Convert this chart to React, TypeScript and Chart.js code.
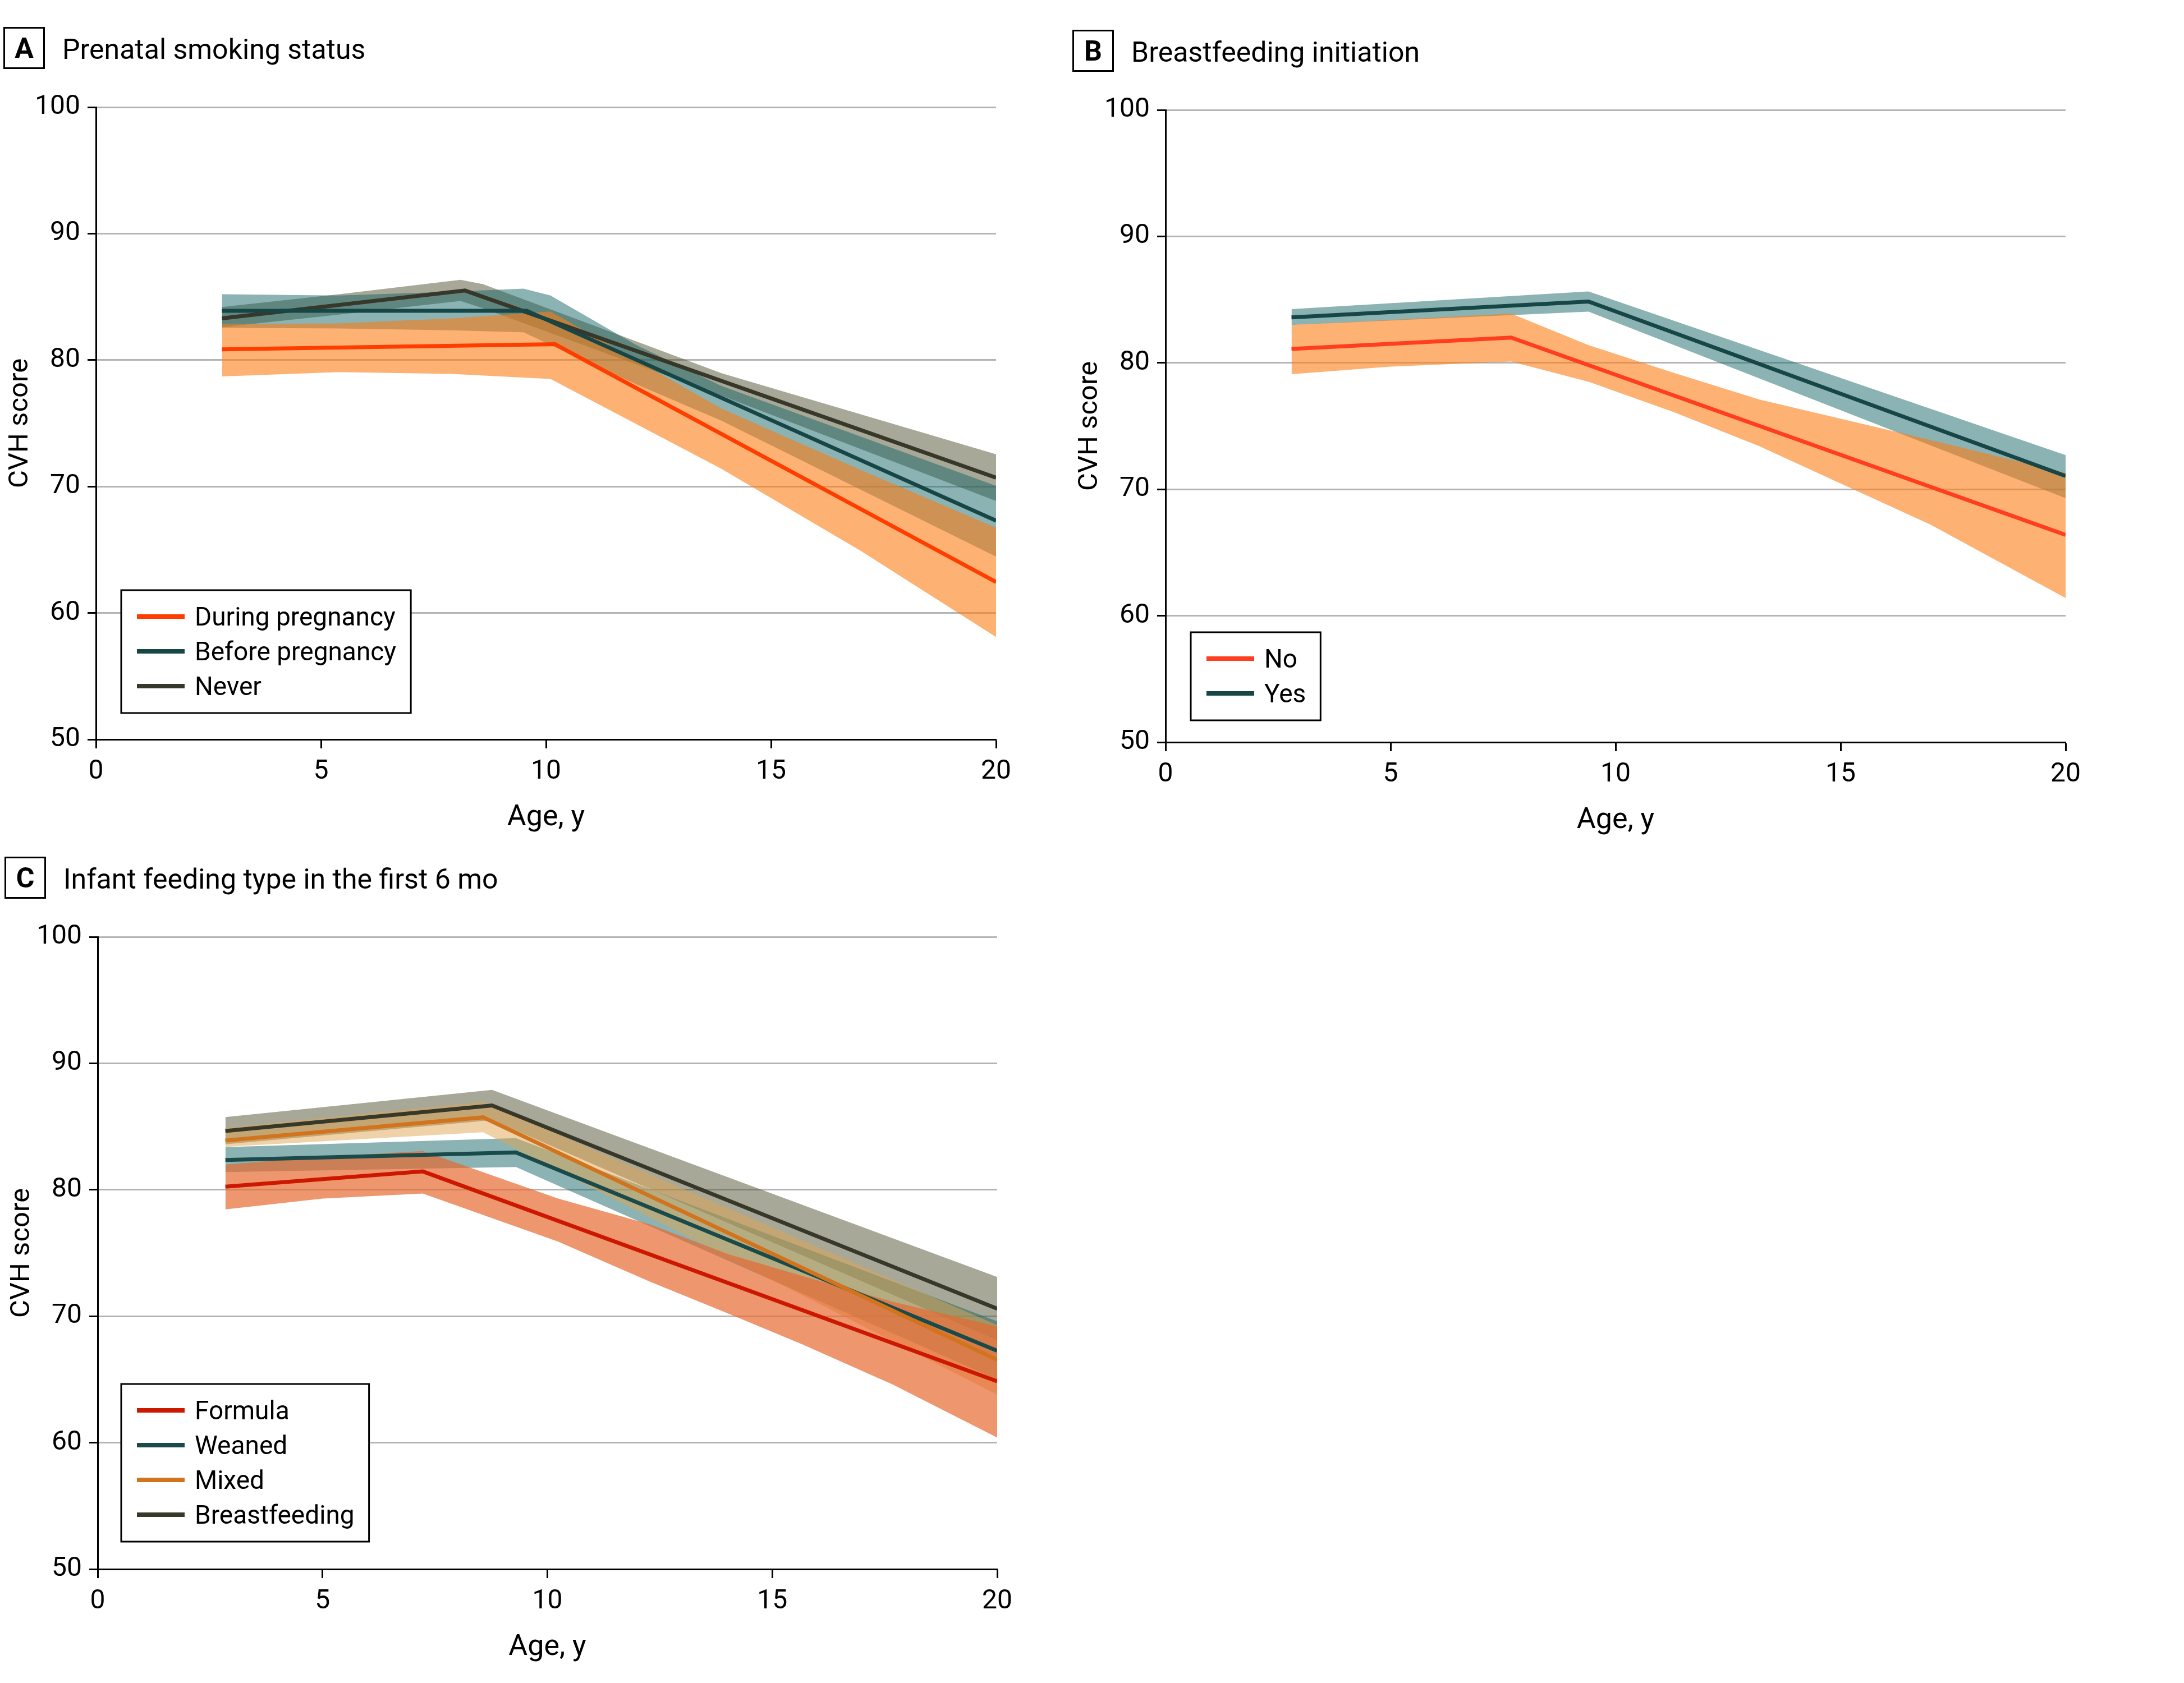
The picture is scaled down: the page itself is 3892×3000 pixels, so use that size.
import React, { useEffect, useRef } from "react";
import { Chart, registerables } from "chart.js";

Chart.register(...registerables);

const FONT = "Roboto, 'Liberation Sans', 'DejaVu Sans', sans-serif";

// ---------------- Panel A: Prenatal smoking status ----------------
const A_duringAges = [2.8, 10.2, 20];
const A_duringCvh = [80.85, 81.25, 62.45];
const A_duringBandAges = [2.8, 5.4, 7.9, 10.1, 13.9, 17, 20];
const A_duringUpper = [82.85, 82.9, 83.3, 83.84, 76.16, 71.3, 66.74];
const A_duringLower = [78.7, 79.05, 78.9, 78.5, 71.4, 64.9, 58.1];

const A_beforeAges = [2.8, 9.57, 20];
const A_beforeCvh = [83.9, 83.9, 67.3];
const A_beforeBandAges = [2.8, 5.4, 7.9, 9.5, 10.1, 12, 13.9, 20];
const A_beforeUpper = [85.2, 85.1, 85.4, 85.65, 85.1, 81.2, 77.95, 70.05];
const A_beforeLower = [82.55, 82.5, 82.35, 82.2, 81.2, 78.1, 75.2, 64.45];

const A_neverAges = [2.8, 8.2, 20];
const A_neverCvh = [83.3, 85.5, 70.7];
const A_neverBandAges = [2.8, 5.4, 8.1, 8.6, 13.9, 20];
const A_neverUpper = [84.2, 85.2, 86.35, 86.0, 78.96, 72.55];
const A_neverLower = [82.6, 83.6, 84.67, 84.1, 77.18, 68.86];

// ---------------- Panel B: Breastfeeding initiation ----------------
const B_noAges = [2.8, 7.68, 20];
const B_noCvh = [81.1, 82.0, 66.4];
const B_noBandAges = [2.8, 5, 7.68, 9.4, 11.3, 13.2, 15.1, 17, 20];
const B_noUpper = [83.0, 83.4, 83.9, 81.4, 79.2, 77.1, 75.5, 73.9, 71.3];
const B_noLower = [79.1, 79.7, 80.1, 78.5, 76.1, 73.4, 70.3, 67.2, 61.4];

const B_yesAges = [2.8, 9.4, 20];
const B_yesCvh = [83.6, 84.85, 71.05];
const B_yesBandAges = [2.8, 9.4, 20];
const B_yesUpper = [84.25, 85.65, 72.7];
const B_yesLower = [83.0, 84.05, 69.3];

// ---------------- Panel C: Infant feeding type in the first 6 mo ----------------
const C_formulaAges = [2.84, 7.23, 20];
const C_formulaCvh = [80.25, 81.45, 64.85];
const C_formulaBandAges = [2.84, 5, 7.23, 10.24, 12.27, 14.03, 15.65, 17.68, 20];
const C_formulaUpper = [82.0, 82.6, 83.06, 79.3, 77.27, 74.9, 73.2, 71.14, 69.2];
const C_formulaLower = [78.45, 79.3, 79.7, 75.9, 72.75, 70.2, 67.8, 64.6, 60.4];

const C_weanedAges = [2.84, 9.3, 20];
const C_weanedCvh = [82.35, 82.95, 67.27];
const C_weanedBandAges = [2.84, 9.3, 20];
const C_weanedUpper = [83.37, 84.08, 69.6];
const C_weanedLower = [81.4, 81.8, 65.0];

const C_mixedAges = [2.84, 8.57, 20];
const C_mixedCvh = [83.9, 85.73, 66.55];
const C_mixedBandAges = [2.84, 8.57, 20];
const C_mixedUpper = [84.9, 86.95, 69.3];
const C_mixedLower = [83.4, 84.55, 63.8];

const C_breastAges = [2.84, 8.77, 20];
const C_breastCvh = [84.65, 86.67, 70.6];
const C_breastBandAges = [2.84, 8.77, 20];
const C_breastUpper = [85.75, 87.9, 73.1];
const C_breastLower = [83.6, 85.5, 68.1];

// Axis ticks
const X_MIN = 0, X_MAX = 20, X_STEP = 5;
const Y_MIN = 50, Y_MAX = 100, Y_STEP = 10;

type Series = {
  label: string;
  line: string;
  band: string;
  layer: number;
  ages: number[];
  cvh: number[];
  bandAges: number[];
  upper: number[];
  lower: number[];
};

type PanelSpec = {
  letter: string;
  title: string;
  boxX: number;
  left: number;
  top: number;
  width: number;
  height: number;
  areaLeft: number;
  areaRight: number;
  legendX: number;
  legendY: number;
  series: Series[];
};

const ORANGE_BAND = "rgba(252,125,22,0.6)";
const TEAL_BAND = "rgba(23,103,103,0.5)";
const GRAY_BAND = "rgba(81,81,49,0.5)";

const AREA_TOP = 191;
const AREA_HEIGHT = 1127;
const X_AXIS_HEIGHT = 175;

const panels: PanelSpec[] = [
  {
    letter: "A",
    title: "Prenatal smoking status",
    boxX: 6,
    left: 0,
    top: 0,
    width: 1946,
    height: 1500,
    areaLeft: 171,
    areaRight: 1775,
    legendX: 216,
    legendY: 1052,
    series: [
      { label: "During pregnancy", line: "#FF3D00", band: ORANGE_BAND, layer: 2, ages: A_duringAges, cvh: A_duringCvh, bandAges: A_duringBandAges, upper: A_duringUpper, lower: A_duringLower },
      { label: "Before pregnancy", line: "#174646", band: TEAL_BAND, layer: 1, ages: A_beforeAges, cvh: A_beforeCvh, bandAges: A_beforeBandAges, upper: A_beforeUpper, lower: A_beforeLower },
      { label: "Never", line: "#37372A", band: GRAY_BAND, layer: 0, ages: A_neverAges, cvh: A_neverCvh, bandAges: A_neverBandAges, upper: A_neverUpper, lower: A_neverLower },
    ],
  },
  {
    letter: "B",
    title: "Breastfeeding initiation",
    boxX: 11,
    left: 1900,
    top: 5,
    width: 1992,
    height: 1500,
    areaLeft: 177,
    areaRight: 1781,
    legendX: 222,
    legendY: 1122,
    series: [
      { label: "No", line: "#FF3D1F", band: ORANGE_BAND, layer: 1, ages: B_noAges, cvh: B_noCvh, bandAges: B_noBandAges, upper: B_noUpper, lower: B_noLower },
      { label: "Yes", line: "#174646", band: TEAL_BAND, layer: 0, ages: B_yesAges, cvh: B_yesCvh, bandAges: B_yesBandAges, upper: B_yesUpper, lower: B_yesLower },
    ],
  },
  {
    letter: "C",
    title: "Infant feeding type in the first 6 mo",
    boxX: 8,
    left: 0,
    top: 1479,
    width: 1946,
    height: 1500,
    areaLeft: 174,
    areaRight: 1777,
    legendX: 216,
    legendY: 988,
    series: [
      { label: "Formula", line: "#CC1800", band: "rgba(231,105,48,0.7)", layer: 3, ages: C_formulaAges, cvh: C_formulaCvh, bandAges: C_formulaBandAges, upper: C_formulaUpper, lower: C_formulaLower },
      { label: "Weaned", line: "#1B4A4A", band: TEAL_BAND, layer: 1, ages: C_weanedAges, cvh: C_weanedCvh, bandAges: C_weanedBandAges, upper: C_weanedUpper, lower: C_weanedLower },
      { label: "Mixed", line: "#D2731E", band: "rgba(225,165,81,0.5)", layer: 2, ages: C_mixedAges, cvh: C_mixedCvh, bandAges: C_mixedBandAges, upper: C_mixedUpper, lower: C_mixedLower },
      { label: "Breastfeeding", line: "#37372A", band: GRAY_BAND, layer: 0, ages: C_breastAges, cvh: C_breastCvh, bandAges: C_breastBandAges, upper: C_breastUpper, lower: C_breastLower },
    ],
  },
];

function pts(xs: number[], ys: number[]) {
  return xs.map((x, i) => ({ x, y: ys[i] }));
}

function buildDatasets(series: Series[]) {
  const ds: any[] = [];
  series.forEach((s) => {
    ds.push({
      label: s.label + " upper",
      data: pts(s.bandAges, s.upper),
      borderWidth: 0,
      borderColor: "rgba(0,0,0,0)",
      backgroundColor: "rgba(0,0,0,0)",
      pointRadius: 0,
      fill: false,
      tension: 0,
      order: 100 - s.layer,
    });
    ds.push({
      label: s.label + " lower",
      data: pts(s.bandAges, s.lower),
      borderWidth: 0,
      borderColor: "rgba(0,0,0,0)",
      backgroundColor: s.band,
      pointRadius: 0,
      fill: "-1",
      tension: 0,
      order: 100 - s.layer,
    });
  });
  series.forEach((s) => {
    ds.push({
      label: s.label,
      data: pts(s.ages, s.cvh),
      borderColor: s.line,
      borderWidth: 7,
      pointRadius: 0,
      fill: false,
      tension: 0,
      order: 10 - s.layer,
    });
  });
  return ds;
}

const decorPlugin = {
  id: "decor",
  afterDraw(chart: any, _args: any, opts: any) {
    const ctx: CanvasRenderingContext2D = chart.ctx;
    ctx.save();
    // Letter box
    ctx.strokeStyle = "#000";
    ctx.lineWidth = 3;
    ctx.strokeRect(opts.boxX + 1.5, 48 + 1.5, 71, 72);
    ctx.fillStyle = "#000";
    ctx.font = `bold 50px ${FONT}`;
    ctx.textAlign = "center";
    ctx.textBaseline = "alphabetic";
    ctx.fillText(opts.letter, opts.boxX + 37, 103);
    // Title
    ctx.font = `50px ${FONT}`;
    ctx.textAlign = "left";
    ctx.fillText(opts.title, opts.boxX + 105, 105);
    // Legend
    const entries: { label: string; color: string }[] = opts.entries;
    const n = entries.length;
    ctx.font = `46px ${FONT}`;
    const tw = Math.max(...entries.map((e) => ctx.measureText(e.label).width));
    const x = opts.legendX;
    const y = opts.legendY;
    const w = 131 + tw + 26;
    const h = 47 + 62 * (n - 1) + 48;
    ctx.fillStyle = "#fff";
    ctx.fillRect(x, y, w, h);
    ctx.lineWidth = 3;
    ctx.strokeStyle = "#000";
    ctx.strokeRect(x, y, w, h);
    entries.forEach((e, i) => {
      const cy = y + 47 + 62 * i;
      ctx.strokeStyle = e.color;
      ctx.lineWidth = 8;
      ctx.beginPath();
      ctx.moveTo(x + 28, cy);
      ctx.lineTo(x + 113, cy);
      ctx.stroke();
      ctx.fillStyle = "#000";
      ctx.textAlign = "left";
      ctx.textBaseline = "alphabetic";
      ctx.fillText(e.label, x + 131, cy + 16);
    });
    ctx.restore();
  },
};

function Panel({ spec }: { spec: PanelSpec }) {
  const ref = useRef<HTMLCanvasElement>(null);
  useEffect(() => {
    const canvas = ref.current;
    if (!canvas) return;
    const chart = new Chart(canvas, {
      type: "line",
      data: { datasets: buildDatasets(spec.series) },
      plugins: [decorPlugin as any],
      options: {
        animation: false,
        responsive: false,
        devicePixelRatio: 1,
        events: [],
        layout: {
          padding: {
            left: 0,
            top: AREA_TOP,
            right: spec.width - spec.areaRight,
            bottom: spec.height - AREA_TOP - AREA_HEIGHT - X_AXIS_HEIGHT,
          },
        },
        plugins: {
          legend: { display: false },
          tooltip: { enabled: false },
          decor: {
            letter: spec.letter,
            title: spec.title,
            boxX: spec.boxX,
            legendX: spec.legendX,
            legendY: spec.legendY,
            entries: spec.series.map((s) => ({ label: s.label, color: s.line })),
          },
        } as any,
        scales: {
          x: {
            type: "linear",
            min: X_MIN,
            max: X_MAX,
            afterFit: (s: any) => {
              s.height = X_AXIS_HEIGHT;
            },
            ticks: { stepSize: X_STEP, color: "#000", font: { family: FONT, size: 48 }, padding: 13, maxRotation: 0, autoSkip: false },
            grid: { drawOnChartArea: false, drawTicks: true, tickLength: 16, tickWidth: 3, tickColor: "#000", color: "#000" },
            border: { color: "#000", width: 3 },
            title: { display: true, text: "Age, y", color: "#000", font: { family: FONT, size: 52 }, padding: { top: 0, bottom: 4 } },
          },
          y: {
            type: "linear",
            min: Y_MIN,
            max: Y_MAX,
            afterFit: (s: any) => {
              s.width = spec.areaLeft;
            },
            ticks: { stepSize: Y_STEP, color: "#000", font: { family: FONT, size: 48 }, padding: 13 },
            grid: {
              color: (c: any) => (c.tick && c.tick.value === Y_MIN ? "rgba(0,0,0,0)" : "#b4b4b4"),
              lineWidth: 3,
              tickLength: 15,
              tickWidth: 3,
              tickColor: "#000",
            },
            border: { color: "#000", width: 3 },
            title: {
              display: true,
              text: "CVH score",
              color: "#000",
              font: { family: FONT, size: 49 },
              padding: { top: spec.areaLeft - 134 - 29.4, bottom: 0 },
            },
          },
        },
      } as any,
    });
    return () => chart.destroy();
  }, [spec]);
  return (
    <canvas
      ref={ref}
      width={spec.width}
      height={spec.height}
      style={{ position: "absolute", left: spec.left, top: spec.top, width: spec.width, height: spec.height }}
    />
  );
}

export default function App() {
  return (
    <div style={{ position: "absolute", left: 0, top: 0, width: 3892, height: 3000, background: "#fff", overflow: "hidden" }}>
      {panels.map((p) => (
        <Panel key={p.letter} spec={p} />
      ))}
    </div>
  );
}
